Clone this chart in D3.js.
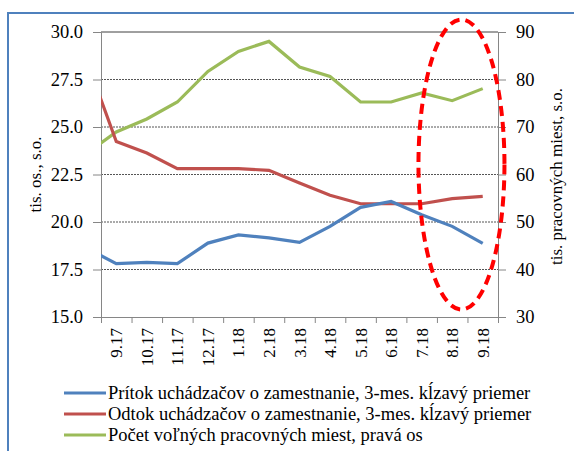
<!DOCTYPE html>
<html>
<head>
<meta charset="utf-8">
<script src="https://cdn.jsdelivr.net/npm/d3@7"></script>
<style>
    body { margin: 0; background: #fff; }
</style>
</head>
<body>
<svg id="chart" width="574" height="451" font-family="Liberation Serif"></svg>
<script>
// months, first one (8.17) is only there so the lines run into the left edge like in excel
var months = ["8.17", "9.17", "10.17", "11.17", "12.17", "1.18", "2.18", "3.18", "4.18", "5.18", "6.18", "7.18", "8.18", "9.18"];
var pritok = [18.65, 17.81, 17.87, 17.81, 18.89, 19.32, 19.16, 18.93, 19.77, 20.77, 21.08, 20.38, 19.77, 18.88];
var odtok = [28.64, 24.24, 23.63, 22.81, 22.81, 22.81, 22.72, 22.05, 21.41, 20.96, 20.96, 20.96, 21.23, 21.35];
var miesta = [64.31, 68.95, 71.68, 75.26, 81.71, 85.92, 88.02, 82.63, 80.65, 75.26, 75.26, 77.16, 75.54, 78.08];

var leftTicks = [15, 17.5, 20, 22.5, 25, 27.5, 30];
var rightTicks = [30, 40, 50, 60, 70, 80, 90];

var seriesNames = [
    "Prítok uchádzačov o zamestnanie, 3-mes. kĺzavý priemer",
    "Odtok uchádzačov o zamestnanie, 3-mes. kĺzavý priemer",
    "Počet voľných pracovných miest, pravá os"
];
var colors = ["#4F81BD", "#C0504D", "#9BBB59"];

var svg = d3.select("#chart");
var plotLeft = 101, plotRight = 498, plotTop = 32, plotBottom = 317;
var serif = "Liberation Serif";
var fontSize = 17;

// blue frame round the whole chart
svg.append("rect")
    .attr("x", 8).attr("y", 13)
    .attr("width", 600).attr("height", 500)
    .attr("fill", "none")
    .attr("stroke", "#4F81BD")
    .attr("stroke-width", 2);

var shown = months.slice(1);
var xScale = d3.scaleLinear()
    .domain([0.5, shown.length + 0.5])
    .range([plotLeft, plotRight]);
var yLeft = d3.scaleLinear().domain([15, 30]).range([plotBottom, plotTop]);
var yRight = d3.scaleLinear().domain([30, 90]).range([plotBottom, plotTop]);

// gridlines
svg.append("g").selectAll("line")
    .data(leftTicks.filter(function (d) { return d > 15 && d < 30; }))
    .enter().append("line")
    .attr("x1", plotLeft).attr("x2", plotRight)
    .attr("y1", function (d) { return yLeft(d); })
    .attr("y2", function (d) { return yLeft(d); })
    .attr("stroke", "#555")
    .attr("stroke-width", 1)
    .attr("stroke-dasharray", "2,1");

svg.append("line")
    .attr("x1", plotLeft).attr("x2", plotRight)
    .attr("y1", yLeft(30)).attr("y2", yLeft(30))
    .attr("stroke", "#404040");

// axes
var yAxisL = d3.axisLeft(yLeft).tickValues(leftTicks).tickSize(8).tickPadding(10)
    .tickFormat(d3.format(".1f"));
svg.append("g")
    .attr("class", "axis")
    .attr("transform", "translate(" + plotLeft + ",0)")
    .call(yAxisL);

var yAxisR = d3.axisRight(yRight).tickValues(rightTicks).tickSize(8).tickPadding(10);
svg.append("g")
    .attr("class", "axis")
    .attr("transform", "translate(" + plotRight + ",0)")
    .call(yAxisR);

var xTickPos = d3.range(0, shown.length + 1).map(function (i) { return i + 0.5; });
var xAxis = d3.axisBottom(xScale).tickValues(xTickPos).tickSize(6).tickFormat("");
svg.append("g")
    .attr("class", "axis")
    .attr("transform", "translate(0," + plotBottom + ")")
    .call(xAxis);

svg.selectAll(".axis").attr("font-family", serif).attr("font-size", 18.5);
svg.selectAll(".axis .domain").attr("stroke", "#868686");
svg.selectAll(".axis .tick line").attr("stroke", "#868686");
svg.selectAll(".axis text").attr("fill", "#000");

// month labels, rotated
svg.append("g").selectAll("text")
    .data(shown)
    .enter().append("text")
    .attr("transform", function (d, i) {
        return "translate(" + (xScale(i + 1) + 6) + "," + (plotBottom + 11) + ") rotate(-90)";
    })
    .attr("text-anchor", "end")
    .attr("font-family", serif)
    .attr("font-size", fontSize)
    .text(function (d) { return d; });

// axis titles
svg.append("text")
    .attr("transform", "translate(41," + ((plotTop + plotBottom) / 2) + ") rotate(-90)")
    .attr("text-anchor", "middle")
    .attr("font-family", serif)
    .attr("font-size", fontSize)
    .text("tis. os., s.o.");

svg.append("text")
    .attr("transform", "translate(562," + ((plotTop + plotBottom) / 2 + 2) + ") rotate(-90)")
    .attr("text-anchor", "middle")
    .attr("font-family", serif)
    .attr("font-size", fontSize)
    .text("tis. pracovných miest, s.o.");

// lines
svg.append("clipPath").attr("id", "plotClip")
    .append("rect")
    .attr("x", plotLeft).attr("y", plotTop - 5)
    .attr("width", plotRight - plotLeft).attr("height", plotBottom - plotTop + 10);

var lineL = d3.line()
    .x(function (d, i) { return xScale(i); })
    .y(function (d) { return yLeft(d); });
var lineR = d3.line()
    .x(function (d, i) { return xScale(i); })
    .y(function (d) { return yRight(d); });

var plot = svg.append("g").attr("clip-path", "url(#plotClip)");
plot.append("path").datum(miesta)
    .attr("d", lineR).attr("fill", "none")
    .attr("stroke", colors[2]).attr("stroke-width", 3.2);
plot.append("path").datum(odtok)
    .attr("d", lineL).attr("fill", "none")
    .attr("stroke", colors[1]).attr("stroke-width", 3.2);
plot.append("path").datum(pritok)
    .attr("d", lineL).attr("fill", "none")
    .attr("stroke", colors[0]).attr("stroke-width", 3.2);

// red dashed ellipse round the last two months
svg.append("ellipse")
    .attr("cx", (xScale(12) + xScale(13)) / 2 - 6)
    .attr("cy", yLeft(22.5) - 10)
    .attr("rx", 43)
    .attr("ry", 145)
    .attr("fill", "none")
    .attr("stroke", "#FF0000")
    .attr("stroke-width", 4)
    .attr("stroke-dasharray", "10,6");

// legend
var legend = svg.append("g").selectAll("g")
    .data(seriesNames)
    .enter().append("g")
    .attr("transform", function (d, i) { return "translate(64," + (393 + 21 * i) + ")"; });
legend.append("line")
    .attr("x1", 0).attr("x2", 42)
    .attr("stroke", function (d, i) { return colors[i]; })
    .attr("stroke-width", 3.2);
legend.append("text")
    .attr("x", 44).attr("y", 5.5)
    .attr("font-family", serif)
    .attr("font-size", 18.5)
    .text(function (d) { return d; });
</script>
</body>
</html>
